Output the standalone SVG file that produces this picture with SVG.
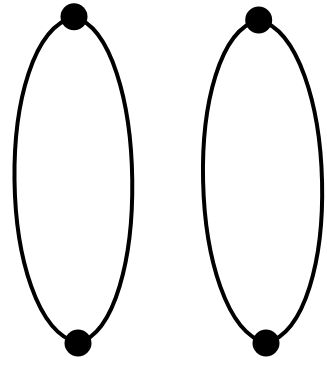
<svg xmlns="http://www.w3.org/2000/svg" width="327" height="366" viewBox="0 0 327 366">
<style>
.e{fill:none;stroke:#000;stroke-width:4}
.n{fill:#000}
</style>
<rect width="327" height="366" fill="#fff"/>
<g id="connectors">
<path class="e" d="M74,17 C-8,37 -4,323 78,343"/>
<path class="e" d="M74,17 C149,37 153,323 78,343"/>
<path class="e" d="M258.7,20 C179.7,40 187,323 266,343"/>
<path class="e" d="M258.7,20 C338.3,40 345.6,323 266,343"/>
</g>
<g id="n1"><circle class="n" cx="74" cy="16.7" r="13.5"/></g>
<g id="n2"><circle class="n" cx="78" cy="343" r="13.5"/></g>
<g id="n3"><circle class="n" cx="258.7" cy="20" r="13.5"/></g>
<g id="n4"><circle class="n" cx="266" cy="343" r="13.5"/></g>
</svg>
